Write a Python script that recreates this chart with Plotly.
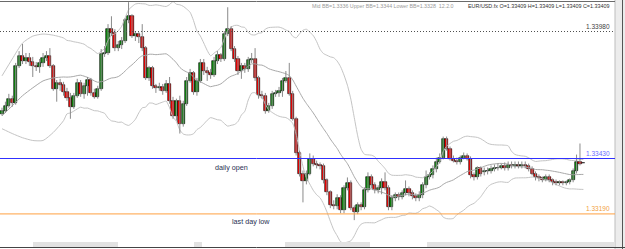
import plotly.graph_objects as go
import pandas as pd

# ---------------- data (EUR/USD.fx candles) ----------------
opens = [1.33624,1.33637,1.33658,1.33689,1.33671,1.33831,1.33874,1.33852,1.33865,1.33848,
         1.33831,1.33827,1.33844,1.33865,1.33874,1.33831,1.33732,1.33758,1.33749,1.33719,
         1.33693,1.33654,1.33702,1.33758,1.33710,1.33745,1.33770,1.33714,1.33697,1.33732,
         1.33883,1.33887,1.33990,1.33973,1.33908,1.33921,1.33939,1.34029,1.34046,1.33960,
         1.33969,1.33956,1.33908,1.33779,1.33822,1.33745,1.33736,1.33740,1.33723,1.33753,
         1.33680,1.33615,1.33680,1.33581,1.33667,1.33766,1.33801,1.33719,1.33766,1.33844,
         1.33809,1.33801,1.33792,1.33852,1.33878,1.33861,1.33969,1.33990,1.33904,1.33861,
         1.33809,1.33831,1.33818,1.33857,1.33861,1.33779,1.33706,1.33702,1.33637,1.33658,
         1.33710,1.33714,1.33723,1.33766,1.33779,1.33710,1.33602,1.33452,1.33365,1.33331,
         1.33365,1.33426,1.33408,1.33400,1.33396,1.33335,1.33283,1.33227,1.33223,1.33258,
         1.33206,1.33301,1.33322,1.33215,1.33197,1.33227,1.33219,1.33292,1.33348,1.33314,
         1.33292,1.33301,1.33327,1.33301,1.33219,1.33258,1.33271,1.33262,1.33279,1.33296,
         1.33279,1.33266,1.33258,1.33271,1.33314,1.33348,1.33357,1.33383,1.33417,1.33434,
         1.33516,1.33473,1.33430,1.33421,1.33413,1.33434,1.33443,1.33430,1.33357,1.33348,
         1.33387,1.33370,1.33378,1.33374,1.33383,1.33387,1.33391,1.33396,1.33387,1.33404,
         1.33396,1.33404,1.33396,1.33404,1.33396,1.33383,1.33365,1.33348,1.33344,1.33339,
         1.33348,1.33335,1.33327,1.33322,1.33327,1.33322,1.33327,1.33335,1.33374,1.33413,
         1.33409]
highs = [1.33650,1.33676,1.33710,1.33702,1.33844,1.33895,1.33926,1.33887,1.33887,1.33870,
         1.33848,1.33861,1.33887,1.33895,1.33908,1.33839,1.33770,1.33775,1.33762,1.33736,
         1.33714,1.33714,1.33775,1.33770,1.33758,1.33783,1.33779,1.33732,1.33745,1.33904,
         1.33917,1.34012,1.34046,1.33990,1.33939,1.33956,1.34038,1.34107,1.34055,1.33982,
         1.33977,1.34012,1.33917,1.33831,1.33831,1.33753,1.33758,1.33753,1.33770,1.33783,
         1.33697,1.33689,1.33702,1.33680,1.33783,1.33818,1.33809,1.33779,1.33861,1.33861,
         1.33827,1.33818,1.33870,1.33895,1.33887,1.33982,1.34085,1.34003,1.33917,1.33874,
         1.33844,1.33844,1.33870,1.33887,1.33908,1.33788,1.33723,1.33714,1.33671,1.33723,
         1.33727,1.33740,1.33779,1.33809,1.33844,1.33723,1.33611,1.33464,1.33378,1.33378,
         1.33452,1.33443,1.33421,1.33413,1.33408,1.33344,1.33292,1.33249,1.33275,1.33271,
         1.33314,1.33348,1.33335,1.33227,1.33240,1.33240,1.33305,1.33370,1.33361,1.33327,
         1.33314,1.33344,1.33370,1.33314,1.33271,1.33283,1.33283,1.33292,1.33335,1.33309,
         1.33292,1.33279,1.33288,1.33327,1.33378,1.33370,1.33400,1.33434,1.33452,1.33525,
         1.33525,1.33482,1.33443,1.33434,1.33443,1.33456,1.33452,1.33439,1.33370,1.33396,
         1.33396,1.33391,1.33391,1.33400,1.33404,1.33408,1.33408,1.33413,1.33417,1.33417,
         1.33417,1.33417,1.33417,1.33417,1.33408,1.33396,1.33374,1.33361,1.33352,1.33361,
         1.33361,1.33344,1.33339,1.33335,1.33335,1.33335,1.33344,1.33387,1.33447,1.33495,
         1.33409]
lows = [1.33615,1.33628,1.33650,1.33654,1.33663,1.33822,1.33839,1.33839,1.33831,1.33783,
        1.33809,1.33801,1.33827,1.33852,1.33822,1.33723,1.33676,1.33723,1.33702,1.33680,
        1.33602,1.33645,1.33693,1.33697,1.33689,1.33702,1.33702,1.33689,1.33689,1.33723,
        1.33870,1.33878,1.33960,1.33895,1.33895,1.33904,1.33930,1.34016,1.33952,1.33939,
        1.33930,1.33895,1.33770,1.33766,1.33732,1.33714,1.33723,1.33706,1.33714,1.33667,
        1.33602,1.33594,1.33538,1.33568,1.33658,1.33758,1.33706,1.33702,1.33758,1.33792,
        1.33766,1.33775,1.33783,1.33839,1.33848,1.33852,1.33960,1.33895,1.33848,1.33792,
        1.33775,1.33801,1.33805,1.33844,1.33766,1.33689,1.33689,1.33624,1.33628,1.33645,
        1.33697,1.33697,1.33697,1.33758,1.33702,1.33594,1.33443,1.33352,1.33240,1.33318,
        1.33357,1.33396,1.33387,1.33383,1.33322,1.33271,1.33215,1.33210,1.33210,1.33193,
        1.33193,1.33292,1.33206,1.33163,1.33189,1.33206,1.33210,1.33283,1.33301,1.33279,
        1.33279,1.33275,1.33292,1.33206,1.33206,1.33245,1.33249,1.33253,1.33271,1.33266,
        1.33253,1.33245,1.33245,1.33258,1.33301,1.33339,1.33344,1.33370,1.33408,1.33426,
        1.33464,1.33421,1.33413,1.33404,1.33404,1.33426,1.33421,1.33344,1.33335,1.33339,
        1.33352,1.33357,1.33361,1.33365,1.33374,1.33378,1.33383,1.33378,1.33378,1.33387,
        1.33387,1.33387,1.33387,1.33387,1.33374,1.33357,1.33335,1.33331,1.33327,1.33331,
        1.33327,1.33314,1.33314,1.33314,1.33314,1.33314,1.33318,1.33327,1.33365,1.33400,
        1.33409]
closes = [1.33637,1.33658,1.33689,1.33671,1.33831,1.33874,1.33852,1.33865,1.33848,1.33831,
          1.33827,1.33844,1.33865,1.33874,1.33831,1.33732,1.33758,1.33749,1.33719,1.33693,
          1.33654,1.33702,1.33758,1.33710,1.33745,1.33770,1.33714,1.33697,1.33732,1.33883,
          1.33887,1.33990,1.33973,1.33908,1.33921,1.33939,1.34029,1.34046,1.33960,1.33969,
          1.33956,1.33908,1.33779,1.33822,1.33745,1.33736,1.33740,1.33723,1.33753,1.33680,
          1.33615,1.33680,1.33581,1.33667,1.33766,1.33801,1.33719,1.33766,1.33844,1.33809,
          1.33801,1.33792,1.33852,1.33878,1.33861,1.33969,1.33990,1.33904,1.33861,1.33809,
          1.33831,1.33818,1.33857,1.33861,1.33779,1.33706,1.33702,1.33637,1.33658,1.33710,
          1.33714,1.33723,1.33766,1.33779,1.33710,1.33602,1.33452,1.33365,1.33331,1.33365,
          1.33426,1.33408,1.33400,1.33396,1.33335,1.33283,1.33227,1.33223,1.33258,1.33206,
          1.33301,1.33322,1.33215,1.33197,1.33227,1.33219,1.33292,1.33348,1.33314,1.33292,
          1.33301,1.33327,1.33301,1.33219,1.33258,1.33271,1.33262,1.33279,1.33296,1.33279,
          1.33266,1.33258,1.33271,1.33314,1.33348,1.33357,1.33383,1.33417,1.33434,1.33516,
          1.33473,1.33430,1.33421,1.33413,1.33434,1.33443,1.33430,1.33357,1.33348,1.33387,
          1.33365,1.33378,1.33374,1.33383,1.33387,1.33391,1.33396,1.33387,1.33404,1.33396,
          1.33404,1.33396,1.33404,1.33396,1.33383,1.33365,1.33348,1.33344,1.33339,1.33348,
          1.33335,1.33327,1.33322,1.33327,1.33322,1.33327,1.33335,1.33374,1.33413,1.33408,
          1.33409]

# Bollinger band values before the 20-bar window is complete
bb_early_index = [0, 3, 6, 9, 12, 15, 18]
bb_early_upper = [1.33788, 1.33861, 1.33930, 1.33960, 1.33969, 1.33964, 1.33952]
bb_early_mid   = [1.33615, 1.33658, 1.33702, 1.33736, 1.33766, 1.33779, 1.33783]
bb_early_lower = [1.33559, 1.33538, 1.33520, 1.33508, 1.33508, 1.33543, 1.33594]

level_high = 1.33980
daily_open = 1.33430
last_day_low = 1.33190
bb_period = 20
bb_dev = 2

header_bb = "Mid BB=1.3336 Upper BB=1.3344 Lower BB=1.3328  12.2.0"
header_sym = "EUR/USD.fx O=1.33409 H=1.33409 L=1.33409 C=1.33409"

# ---------------- derived ----------------
n = len(closes)
idx = list(range(n))
s = pd.Series(closes)
mid = s.rolling(bb_period).mean()
sd = s.rolling(bb_period).std(ddof=0)
upper = mid + bb_dev * sd
lower = mid - bb_dev * sd
k = bb_period - 1
bx = bb_early_index + idx[k:]
bu = bb_early_upper + upper[k:].tolist()
bm = bb_early_mid + mid[k:].tolist()
bl = bb_early_lower + lower[k:].tolist()

UP = "#0c8c0c"
DN = "#ff0000"

fig = go.Figure()

# Bollinger bands
band_line = dict(color="#c4c4c4", width=1, shape="spline", smoothing=0.6)
fig.add_trace(go.Scatter(x=bx, y=bu, mode="lines", line=band_line, hoverinfo="skip"))
fig.add_trace(go.Scatter(x=bx, y=bl, mode="lines", line=band_line, hoverinfo="skip"))
fig.add_trace(go.Scatter(x=bx, y=bm, mode="lines",
                         line=dict(color="#a8a8a8", width=1, shape="spline", smoothing=0.6),
                         hoverinfo="skip"))

# wicks
wx, wy = [], []
for i in idx:
    wx += [i, i, None]
    wy += [lows[i], highs[i], None]
fig.add_trace(go.Scatter(x=wx, y=wy, mode="lines", line=dict(color="#8a8a8a", width=1), hoverinfo="skip"))

# bodies
base = [min(o, c) for o, c in zip(opens, closes)]
height = [max(abs(c - o), 0.000012) for o, c in zip(opens, closes)]
colors = [UP if c > o else DN for o, c in zip(opens, closes)]
fig.add_trace(go.Bar(x=idx, y=height, base=base, width=0.92,
                     marker=dict(color=colors, line=dict(color="#000000", width=0.6)),
                     hoverinfo="skip"))

W, H = 625, 249
px_per_bar = 3.42
x0 = -2 / px_per_bar
x1 = x0 + W / px_per_bar
px_per_price = 23091.0
ytop = level_high + 31.5 / px_per_price
ybot = ytop - H / px_per_price
xr = 615 / W

shapes = [
    dict(type="rect", xref="paper", yref="paper", x0=xr, x1=1, y0=0, y1=1,
         fillcolor="#ececec", line=dict(width=0), layer="below"),
    dict(type="line", xref="paper", yref="paper", x0=xr, x1=xr, y0=0, y1=1,
         line=dict(color="#bdbdbd", width=1)),
    dict(type="line", xref="paper", yref="paper", x0=622.5 / W, x1=622.5 / W, y0=0, y1=1,
         line=dict(color="#555555", width=1)),
    dict(type="line", xref="paper", yref="paper", x0=0, x1=xr, y0=1 - 1.5 / H, y1=1 - 1.5 / H,
         line=dict(color="#6a6a6a", width=1)),
    dict(type="line", xref="paper", yref="paper", x0=0, x1=1, y0=1.5 / H, y1=1.5 / H,
         line=dict(color="#444444", width=1)),
    dict(type="line", xref="paper", yref="y", x0=0, x1=xr, y0=level_high, y1=level_high,
         line=dict(color="#505050", width=1, dash="1px,2px")),
    dict(type="line", xref="paper", yref="y", x0=0, x1=xr, y0=daily_open, y1=daily_open,
         line=dict(color="#3030ff", width=1)),
    dict(type="line", xref="paper", yref="y", x0=0, x1=xr, y0=last_day_low, y1=last_day_low,
         line=dict(color="#ffa040", width=1)),
]
for a, b in [(33, 118), (194, 202), (285, 370), (427, 615)]:
    shapes.append(dict(type="rect", xref="paper", yref="paper", x0=a / W, x1=b / W,
                       y0=2 / H, y1=7 / H, fillcolor="#e2e2e2", line=dict(width=0)))

FONT = "Liberation Sans"
ann = [
    dict(x=612 / W, xref="paper", y=level_high, yref="y", text="1.33980", showarrow=False,
         xanchor="right", yanchor="bottom", yshift=0, font=dict(family=FONT, size=6.5, color="#404040")),
    dict(x=612 / W, xref="paper", y=daily_open, yref="y", text="1.33430", showarrow=False,
         xanchor="right", yanchor="bottom", yshift=0, font=dict(family=FONT, size=6.5, color="#6a6aff")),
    dict(x=612 / W, xref="paper", y=last_day_low, yref="y", text="1.33190", showarrow=False,
         xanchor="right", yanchor="bottom", yshift=0, font=dict(family=FONT, size=6.5, color="#f2a040")),
    dict(x=232 / W, xref="paper", y=daily_open, yref="y", text="daily open", showarrow=False,
         xanchor="center", yanchor="top", yshift=-2, font=dict(family=FONT, size=7.2, color="#283052")),
    dict(x=251 / W, xref="paper", y=last_day_low, yref="y", text="last day low", showarrow=False,
         xanchor="center", yanchor="top", yshift=-1, font=dict(family=FONT, size=7.2, color="#283052")),
    dict(x=310 / W, xref="paper", y=1 - 6 / H, yref="paper", text=header_bb, showarrow=False,
         xanchor="left", yanchor="middle", font=dict(family=FONT, size=5.3, color="#9a9a9a")),
    dict(x=466 / W, xref="paper", y=1 - 6 / H, yref="paper", text=header_sym, showarrow=False,
         xanchor="left", yanchor="middle", font=dict(family=FONT, size=5.4, color="#303030")),
]

fig.update_layout(
    width=W, height=H, margin=dict(l=0, r=0, t=0, b=0),
    paper_bgcolor="white", plot_bgcolor="white",
    showlegend=False, hovermode=False, barmode="overlay", bargap=0,
    xaxis=dict(range=[x0, x1], visible=False, fixedrange=True),
    yaxis=dict(range=[ybot, ytop], visible=False, fixedrange=True),
    shapes=shapes, annotations=ann,
)

fig.write_html("out.html")
